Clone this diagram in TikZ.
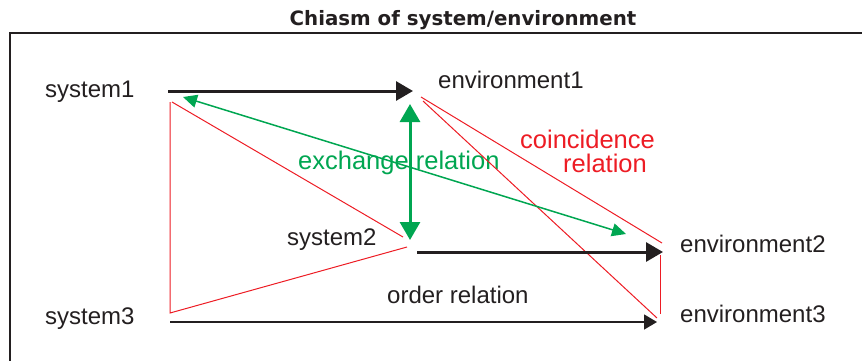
\documentclass[tikz,border=0pt]{standalone}
\usepackage{fontspec}
\setmainfont{Liberation Sans}
\newfontfamily\titlefont{DejaVu Sans}
\usetikzlibrary{arrows.meta}
\definecolor{ink}{HTML}{231F20}
\definecolor{grn}{HTML}{00A651}
\definecolor{rd}{HTML}{ED1C24}
\begin{document}
\begin{tikzpicture}[x=1pt,y=-1pt,
  lbl/.style={anchor=base west, inner sep=0pt, text=ink, font=\fontsize{24}{28}\selectfont},
  glbl/.style={anchor=base west, inner sep=0pt, text=grn, font=\fontsize{25.5}{29}\selectfont},
  rlbl/.style={anchor=base west, inner sep=0pt, text=rd, font=\fontsize{25.5}{29}\selectfont},
  thickarr/.style={draw=ink, fill=ink, line width=3pt, -{Triangle[length=17pt,width=19pt]}},
  thinarr/.style={draw=ink, fill=ink, line width=1.5pt, -{Triangle[length=13pt,width=15pt]}},
  gthick/.style={draw=grn, fill=grn, line width=3pt, {Triangle[length=18pt,width=20pt]}-{Triangle[length=18pt,width=20pt]}},
  gthin/.style={draw=grn, fill=grn, line width=1.5pt, {Triangle[length=14pt,width=13pt]}-{Triangle[length=14pt,width=13pt]}},
  redline/.style={draw=rd, line width=1pt},
  frame/.style={draw=ink, line width=2.5pt}]
\useasboundingbox (0,0) rectangle (862,360);

% title and frame
\node[anchor=base, inner sep=0pt, text=ink, font=\titlefont\bfseries\fontsize{19.8}{24}\selectfont] (title) at (463,25) {Chiasm of system/environment};
\coordinate (fbl) at (10,365);
\coordinate (ftl) at (10,33);
\coordinate (ftr) at (870,33);
\draw[frame] (fbl) -- (ftl) -- (ftr);

% labels
\node[lbl] (sys1) at (45,97) {system1};
\node[lbl] (env1) at (438,88) {environment1};
\node[lbl] (sys2) at (287,245) {system2};
\node[lbl] (env2) at (680,252) {environment2};
\node[lbl] (sys3) at (45,324) {system3};
\node[lbl] (env3) at (680,322) {environment3};
\node[lbl] (order) at (387,303) {order relation};
\node[glbl] (exch) at (298,169) {exchange relation};
\node[rlbl] (coinc) at (520,148) {coincidence};
\node[rlbl] (coincb) at (563,172) {relation};

% connector end points
\coordinate (a1s) at (168,91);  \coordinate (a1e) at (413,91);
\coordinate (a2s) at (417,252); \coordinate (a2e) at (663,252);
\coordinate (a3s) at (170,322); \coordinate (a3e) at (657,322);
\coordinate (g1a) at (410,104); \coordinate (g1b) at (410,240);
\coordinate (g2a) at (183,97);  \coordinate (g2b) at (626,234);
\coordinate (r1) at (170,102);  \coordinate (r1b) at (172,102);
\coordinate (r2) at (170,313);
\coordinate (r3) at (403,237);  \coordinate (r4) at (407,247);
\coordinate (r5) at (421,97);   \coordinate (r6) at (662,243);
\coordinate (r7) at (423,101);  \coordinate (r8) at (657,318);
\coordinate (r9) at (660,255);  \coordinate (r10) at (660,314);

% red coincidence lines
\draw[redline] (r1) -- (r2) -- (r4);
\draw[redline] (r1b) -- (r3);
\draw[redline] (r5) -- (r6);
\draw[redline] (r7) -- (r8);
\draw[redline] (r9) -- (r10);

% order arrows
\draw[thickarr] (a1s) -- (a1e);
\draw[thickarr] (a2s) -- (a2e);
\draw[thinarr] (a3s) -- (a3e);

% exchange arrows
\draw[gthin] (g2a) -- (g2b);
\draw[gthick] (g1a) -- (g1b);
\end{tikzpicture}
\end{document}
